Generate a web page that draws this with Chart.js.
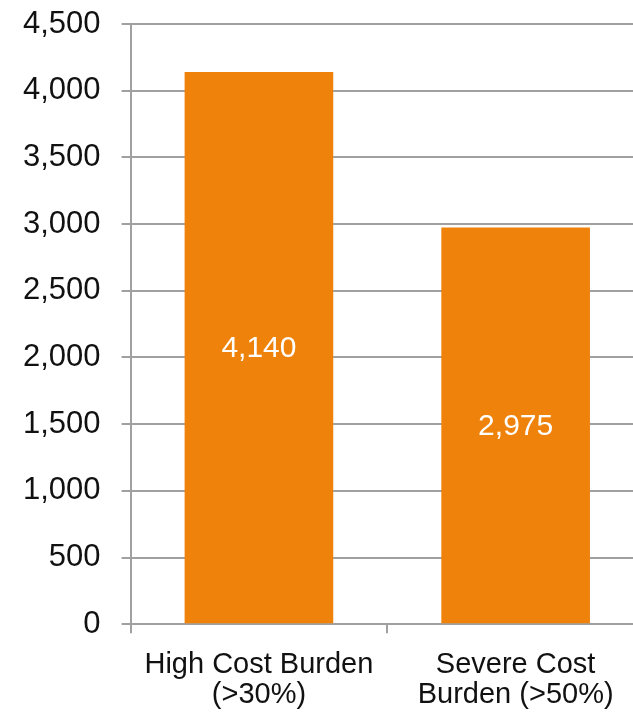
<!DOCTYPE html>
<html>
<head>
<meta charset="utf-8">
<script src="https://cdn.jsdelivr.net/npm/chart.js@4/dist/chart.umd.min.js"></script>
<style>
  html, body { margin: 0; padding: 0; background: #fff; overflow: hidden; }
  #wrap { width: 644px; height: 713px; }
</style>
</head>
<body>
<div id="wrap"><canvas id="chart"></canvas></div>
<script>
const categories = [["High Cost Burden", "(>30%)"], ["Severe Cost", "Burden (>50%)"]];
const households = [4140, 2975];
const yMax = 4500;
const yStep = 500;

const FONT = "'Liberation Sans', Arial, sans-serif";
const ORANGE = "#EF820A";
const GRID = "#a0a0a0";

// white value text in the middle of each bar
const barValues = {
  id: "barValues",
  afterDatasetsDraw(chart) {
    const ctx = chart.ctx;
    const meta = chart.getDatasetMeta(0);
    ctx.save();
    ctx.fillStyle = "#fff";
    ctx.font = "30px " + FONT;
    ctx.textAlign = "center";
    ctx.textBaseline = "middle";
    meta.data.forEach((bar, i) => {
      const mid = (bar.y + bar.base) / 2;
      ctx.fillText(households[i].toLocaleString("en-US"), bar.x, mid + 1.5);
    });
    ctx.restore();
  }
};

new Chart(document.getElementById("chart"), {
  type: "bar",
  data: {
    labels: categories,
    datasets: [{
      data: households,
      backgroundColor: ORANGE,
      categoryPercentage: 1,
      barPercentage: 0.579
    }]
  },
  options: {
    responsive: true,
    maintainAspectRatio: false,
    animation: false,
    layout: { padding: { left: 2, top: 0, right: 0, bottom: -14 } },
    plugins: { legend: { display: false }, tooltip: { enabled: false } },
    scales: {
      x: {
        grid: {
          offset: true,
          drawOnChartArea: false,
          tickLength: 9,
          color: GRID,
          lineWidth: 2
        },
        border: { color: GRID, width: 2 },
        ticks: { color: "#111", font: { family: FONT, size: 29, lineHeight: 1.03 }, padding: 17 }
      },
      y: {
        min: 0,
        max: yMax,
        grid: { tickLength: 9, color: GRID, lineWidth: 2 },
        border: { color: GRID, width: 2 },
        ticks: {
          stepSize: yStep,
          color: "#111",
          padding: 21,
          font: { family: FONT, size: 31 },
          callback: v => v.toLocaleString("en-US")
        },
        // keep the top tick close to the canvas edge
        afterFit: scale => { scale.paddingTop = 24; }
      }
    }
  },
  plugins: [barValues]
});
</script>
</body>
</html>
